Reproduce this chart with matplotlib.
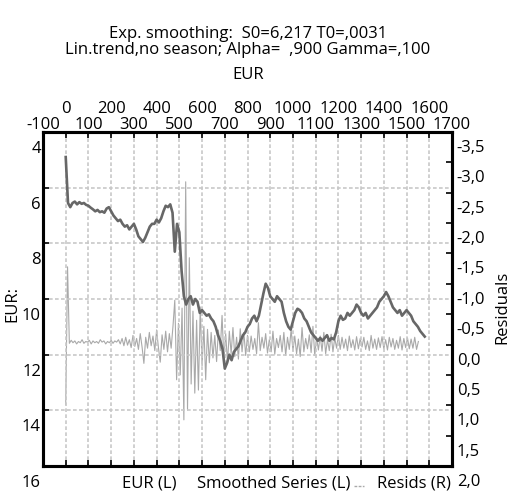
import numpy as np
import matplotlib
matplotlib.use("Agg")
import matplotlib.pyplot as plt
import matplotlib.transforms as mtransforms
from matplotlib.lines import Line2D

# ---------------- data ----------------
eur_step = 10
eur = [4.9, 6.55, 6.7, 6.55, 6.5, 6.6, 6.52, 6.58, 6.55, 6.62,
       6.65, 6.72, 6.78, 6.85, 6.8, 6.88, 6.85, 6.9, 6.75, 6.7,
       6.85, 7.0, 7.1, 7.2, 7.15, 7.3, 7.4, 7.35, 7.5, 7.4,
       7.3, 7.5, 7.75, 7.85, 7.95, 7.8, 7.6, 7.4, 7.3, 7.3,
       7.15, 7.25, 7.1, 6.85, 6.65, 6.7, 6.6, 6.9, 8.3, 7.3,
       7.6, 9.0, 9.9, 10.2, 10.0, 9.9, 10.2, 10.0, 10.1, 10.5,
       10.4, 10.5, 10.6, 10.55, 10.7, 10.8, 11.0, 11.3, 11.5, 11.8,
       12.5, 12.3, 12.0, 12.2, 11.9, 11.8, 11.7, 11.5, 11.3, 11.2,
       11.0, 10.9, 10.7, 10.6, 10.8, 10.6, 10.2, 9.8, 9.45, 9.6,
       9.9, 10.0, 10.1, 9.9, 10.0, 10.1, 10.5, 10.8, 11.0, 11.1,
       10.8, 10.5, 10.35, 10.4, 10.5, 10.7, 10.8, 11.0, 11.2, 11.3,
       11.4, 11.5, 11.4, 11.5, 11.4, 11.3, 11.5, 11.4, 11.45, 11.2,
       10.8, 10.6, 10.75, 10.7, 10.5, 10.6, 10.5, 10.4, 10.2, 10.3,
       10.5, 10.6, 10.5, 10.7, 10.6, 10.5, 10.4, 10.3, 10.1, 10.0,
       9.9, 9.75, 9.9, 10.1, 10.3, 10.4, 10.5, 10.4, 10.6, 10.5,
       10.4, 10.5, 10.6, 10.8, 10.9, 11.0, 11.15, 11.25, 11.35]

resid_step = 8
resid = [0.99, -1.28,
         -0.02, -0.07, -0.03, -0.06, -0.01, -0.05, -0.03, -0.08, -0.02, -0.05,
         -0.04, -0.07, -0.01, -0.06, -0.03, -0.05, -0.02, -0.08, -0.04, -0.06,
         -0.01, -0.05, -0.03, -0.07, -0.02, -0.06, -0.04, -0.08, -0.01,
         -0.10, 0.02, -0.12, 0.01, -0.08, 0.05, -0.15, 0.03, -0.10, 0.08,
         -0.18, 0.04, 0.31, -0.12, 0.06, -0.20, 0.02, -0.14, 0.10, -0.24,
         0.05, 0.29, -0.16, 0.08, -0.22, 0.12, -0.18, 0.06, -0.30,
         -0.73, 0.58, -0.35, 0.50, -0.60, 1.24, -2.68, 1.08, -1.43, 0.65,
         -0.55, 0.80, -0.40, 0.75, -0.62, 0.35, -0.30, 0.58, -0.25, 0.30,
         -0.20, 0.22, -0.15, 0.28, -0.24, 0.10, -0.48, 0.25, -0.18, 0.30,
         -0.22, 0.15, -0.28, 0.20, -0.12, 0.24, -0.26, 0.12, -0.20, 0.18, -0.15,
         0.12, -0.14, 0.08, -0.10, 0.15, -0.36, 0.10, -0.12, 0.06, -0.18,
         0.14, -0.08, 0.12, -0.22, 0.16, -0.10, 0.05, -0.15, 0.12, -0.20,
         0.18, -0.12, 0.08, -0.25, 0.10, -0.14, 0.15, -0.09, 0.20, -0.28,
         0.12, -0.10, 0.07, -0.16, 0.13, -0.30, 0.18, -0.12, 0.09, -0.14,
         0.11, -0.20, 0.15, -0.08, 0.10, -0.17, 0.12, -0.11, 0.06, -0.15,
         0.08, -0.12, 0.06, -0.09, 0.10, -0.14, 0.05, -0.08, 0.09, -0.13,
         0.07, -0.10, 0.04, -0.12, 0.08, -0.06, 0.10, -0.15, 0.06, -0.09,
         0.08, -0.11, 0.05, -0.13, 0.07, -0.08, 0.09, -0.12, 0.04, -0.10,
         0.08, -0.07, 0.06, -0.13, 0.09, -0.10, 0.05, -0.11, 0.07, -0.09,
         0.06, -0.12, 0.08, -0.05]

left_ticks = [4, 6, 8, 10, 12, 14, 16]
right_ticks = [-3.5, -3.0, -2.5, -2.0, -1.5, -1.0, -0.5, 0.0, 0.5, 1.0, 1.5, 2.0]
x_odd_ticks = [-100, 100, 300, 500, 700, 900, 1100, 1300, 1500, 1700]
x_even_ticks = [0, 200, 400, 600, 800, 1000, 1200, 1400, 1600]

title_lines = ["Exp. smoothing:  S0=6,217 T0=,0031",
               "Lin.trend,no season; Alpha=  ,900 Gamma=,100"]

# ---------------- style ----------------
plt.rcParams['font.family'] = ['Open Sans', 'DejaVu Sans']
FS = 12
DARK = '#676767'
LIGHT = '#a9a9a9'
GRID = '#c8c8c8'

W, H = 513, 493
fig = plt.figure(figsize=(W / 100, H / 100), dpi=100)
ax = fig.add_axes([43 / W, 1 - 466 / H, (452 - 43) / W, (466 - 132) / H])
ax2 = ax.twinx()

x_eur = np.arange(len(eur)) * eur_step
x_res = np.arange(len(resid)) * resid_step

ax.plot(x_eur, eur, color=DARK, lw=1.9, zorder=3)
ax2.plot(x_res, resid, color=LIGHT, lw=0.8, zorder=2)
ax.set_zorder(ax2.get_zorder() + 1)
ax.patch.set_visible(False)

ax.set_xlim(-100, 1700)
ax.set_ylim(16, 4)
ax2.set_ylim(2.0, -3.5)

# grid
gls = (0, (2.2, 1.4))
for xv in range(0, 1700, 100):
    ax.axvline(xv, color=GRID, lw=1.2, ls=gls, zorder=1)
for yv in [6, 8, 10, 12, 14]:
    ax.axhline(yv, color=GRID, lw=1.2, ls=gls, zorder=1)

# x ticks (top, staggered)
ax.set_xticks(x_odd_ticks)
ax.set_xticklabels([str(v) for v in x_odd_ticks])
ax.set_xticks(x_even_ticks, minor=True)
ax.set_xticklabels([str(v) for v in x_even_ticks], minor=True)
ax.tick_params(axis='x', which='both', top=True, bottom=True, labeltop=True,
               labelbottom=False, direction='in', length=4, width=1.2,
               labelsize=FS)
ax.tick_params(axis='x', which='major', pad=-0.5)
ax.tick_params(axis='x', which='minor', pad=10.5)

# left y
ax.set_yticks(left_ticks)
ax.set_yticklabels([str(v) for v in left_ticks])
ax.tick_params(axis='y', direction='in', length=4, width=1.2, pad=1.5,
               labelsize=FS, right=False)

# right y
ax2.set_yticks(right_ticks)
ax2.set_yticklabels([f"{v:.1f}".replace('.', ',') for v in right_ticks])
ax2.tick_params(axis='y', direction='in', length=4, width=1.2, pad=3.5,
                labelsize=FS)

for a in (ax, ax2):
    for s in a.spines.values():
        s.set_linewidth(2.2)
        s.set_color('black')

# shift y labels down (as in reference)
offL = mtransforms.ScaledTranslation(0, -0.15, fig.dpi_scale_trans)
for lab in ax.get_yticklabels():
    lab.set_transform(lab.get_transform() + offL)
offR = mtransforms.ScaledTranslation(0, -0.14, fig.dpi_scale_trans)
for lab in ax2.get_yticklabels():
    lab.set_transform(lab.get_transform() + offR)

# titles
cx = 248 / W
fig.text(cx, 1 - 34 / H, title_lines[0], ha='center', va='center', fontsize=FS)
fig.text(cx, 1 - 50 / H, title_lines[1], ha='center', va='center', fontsize=FS)
fig.text(cx, 1 - 75 / H, "EUR", ha='center', va='center', fontsize=FS)

# axis labels
fig.text(12 / W, 1 - 304 / H, "EUR:", rotation=90, ha='center', va='center', fontsize=FS)
fig.text(502 / W, 1 - 307 / H, "Residuals", rotation=90, ha='center', va='center', fontsize=FS)

# legend row
ly = 1 - 483 / H
fig.text(122 / W, ly, "EUR (L)", ha='left', va='center', fontsize=FS)
fig.text(197 / W, ly, "Smoothed Series (L)", ha='left', va='center', fontsize=FS)
fig.add_artist(Line2D([354 / W, 364 / W], [1 - 486 / H, 1 - 486 / H],
                      transform=fig.transFigure, color=LIGHT, lw=1, ls=(0, (2, 1))))
fig.text(377 / W, ly, "Resids (R)", ha='left', va='center', fontsize=FS)

fig.savefig("out.png", dpi=100)
